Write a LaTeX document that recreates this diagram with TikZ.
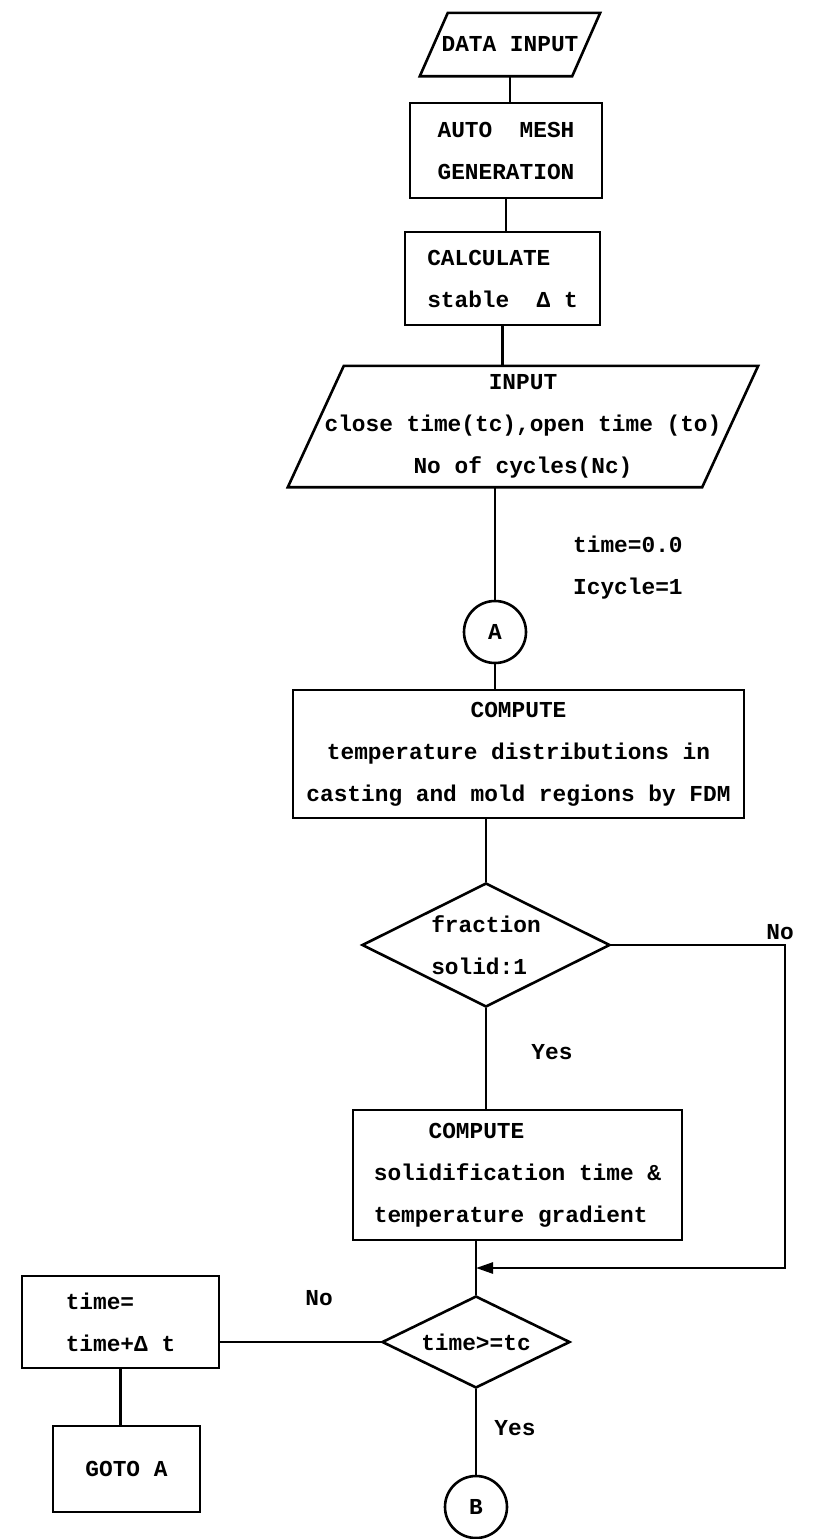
\documentclass[tikz,border=0pt]{standalone}
\usepackage{fontspec}
\setmonofont{Liberation Mono}
\usetikzlibrary{shapes.geometric,arrows.meta}

\tikzset{
  flowline/.style={line width=2.6pt},
  txt/.style={font=\ttfamily\bfseries\fontsize{22.8}{42}\selectfont, inner sep=0pt},
  procbox/.style={txt, draw, flowline, rectangle},
  iobox/.style={txt, rectangle},
  decision/.style={txt, draw, flowline, diamond, aspect=2},
  joinpt/.style={txt, draw, flowline, circle, minimum size=62pt},
  flowarrow/.style={flowline, -{Triangle[length=17pt,width=11pt]}},
}

\begin{document}
\begin{tikzpicture}[x=1pt,y=-1pt]

\useasboundingbox (0,0) rectangle (814,1539);

% Input / output boxes (parallelograms drawn round them)
\node[iobox, minimum width=152pt, minimum height=63pt] (data) at (510,44.5) {DATA INPUT};
\draw[flowline] ([xshift=14pt]data.north west) -- ([xshift=14pt]data.north east)
  -- ([xshift=-14pt]data.south east) -- ([xshift=-14pt]data.south west) -- cycle;

\node[procbox, align=left, minimum width=192pt, minimum height=95pt] (mesh) at (506,150.5)
  {AUTO\ \ MESH\\GENERATION};
\node[procbox, align=left, minimum width=195pt, minimum height=93pt] (calc) at (502.5,278.5)
  {CALCULATE\\stable\ \ Δ t};

\node[iobox, align=center, minimum width=414pt, minimum height=121pt] (input) at (523,426.5)
  {INPUT\\close time(tc),open time (to)\\No of cycles(Nc)};
\draw[flowline] ([xshift=28pt]input.north west) -- ([xshift=28pt]input.north east)
  -- ([xshift=-28pt]input.south east) -- ([xshift=-28pt]input.south west) -- cycle;

% Initial values
\node[txt, align=left, anchor=west] (init) at (573,568) {time=0.0\\Icycle=1};

\node[joinpt] (A) at (495,632) {A};

\node[procbox, align=center, minimum width=451pt, minimum height=128pt] (comp) at (518.5,754)
  {COMPUTE\\temperature distributions in\\casting and mold regions by FDM};

\node[decision, align=left, minimum width=248pt, minimum height=124pt] (frac) at (486,945)
  {fraction\\solid:1};

\node[procbox, align=left, minimum width=329pt, minimum height=130pt] (solid) at (517.5,1175)
  {\phantom{0000}COMPUTE\\solidification time \&\\temperature gradient};

\node[decision, minimum width=188pt, minimum height=92pt] (tc) at (476,1342) {time>=tc};

\node[procbox, align=left, minimum width=197pt, minimum height=92pt] (tbox) at (120.5,1322)
  {time=\\time+Δ t};
\node[procbox, minimum width=147pt, minimum height=86pt] (goto) at (126.5,1469) {GOTO A};

\node[joinpt] (B) at (476,1507) {B};

% Branch labels
\node[txt] (nofrac) at (780,932) {No};
\node[txt] (yesfrac) at (552,1052) {Yes};
\node[txt] (notc) at (319,1298) {No};
\node[txt] (yestc) at (515,1428) {Yes};

% Connectors
\draw[flowline] (data.south) -- (data.south |- mesh.north);
\draw[flowline] (mesh.south) -- (mesh.south |- calc.north);
\draw[flowline] (calc.south) -- (calc.south |- input.north);
\draw[flowline] (A.north |- input.south) -- (A.north);
\draw[flowline] (A.south) -- (A.south |- comp.north);
\draw[flowline] (frac.north |- comp.south) -- (frac.north);
\draw[flowline] (frac.south) -- (frac.south |- solid.north);
\draw[flowline] (tc.north |- solid.south) -- (tc.north);
\coordinate (join) at (tc.north |- 0,1268);
\coordinate (noturn) at (785,1268);
\draw[flowarrow] (frac.east) -| (noturn) -- (join);
\draw[flowline] (tc.west) -- (tc.west -| tbox.east);
\draw[flowline] (tbox.south) -- (tbox.south |- goto.north);
\draw[flowline] (tc.south) -- (B.north);

\end{tikzpicture}
\end{document}
